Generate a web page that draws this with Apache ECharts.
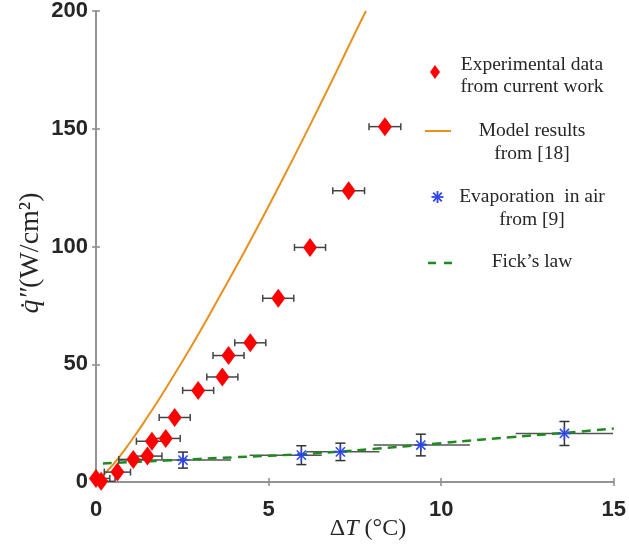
<!DOCTYPE html>
<html>
<head>
<meta charset="utf-8">
<script src="https://cdn.jsdelivr.net/npm/echarts@6/dist/echarts.min.js"></script>
<style>
html,body{margin:0;padding:0;background:#fff;}
#chart{width:629px;height:548px;}
</style>
</head>
<body>
<div id="chart"></div>
<script>
// ---- Axis ranges ----
const xMin = 0, xMax = 15, xInterval = 5;
const yMin = 0, yMax = 200, yInterval = 50;

// ---- Experimental data from current work (red diamonds, horizontal error) ----
const expX    = [0.00, 0.15, 0.62, 1.08, 1.49, 1.62, 2.02, 2.28, 2.96, 3.66, 3.84, 4.47, 5.28, 6.20, 7.32, 8.37];
const expY    = [1.5,  0.3,  4.2,  9.6,  11.0, 17.3, 18.5, 27.4, 38.9, 44.6, 53.7, 59.1, 78.0, 99.6, 123.7, 150.9];
const expXErr = [0.40, 0.40, 0.38, 0.42, 0.42, 0.45, 0.42, 0.45, 0.45, 0.45, 0.45, 0.45, 0.45, 0.45, 0.46, 0.46];

// ---- Model results from [18] (orange line) ----
const modelX = [0, 0.5, 1, 1.5, 2, 2.5, 3, 3.5, 4, 4.5, 5, 5.5, 6, 6.5, 7, 7.5, 7.82];
const modelY = [0, 7.5, 17.1, 27.8, 39.2, 51.2, 63.6, 76.6, 89.8, 103.3, 117.1, 131.3, 145.7, 160.4, 175.3, 190.5, 200];

// ---- Evaporation in air from [9] (blue asterisks) ----
const evapX     = [2.52, 5.95, 7.08, 9.41, 13.57];
const evapY     = [9.3, 11.4, 12.8, 15.7, 20.6];
const evapYErr  = [3.4, 4.0, 3.7, 4.6, 5.1];
const evapXLow  = [0.63, 4.45, 6.09, 8.04, 12.16];
const evapXHigh = [3.91, 6.54, 8.21, 10.83, 14.98];

// ---- Fick's law (green dashed) ----
const fickX = [0.2, 2, 4, 6, 8, 10, 12, 14, 15];
const fickY = [7.9, 9.1, 10.5, 11.9, 14.0, 16.5, 19.0, 21.4, 22.7];

// ---- Legend labels ----
const legendLabels = ['Experimental data\nfrom current work', 'Model results\nfrom [18]', 'Evaporation  in air\nfrom [9]', 'Fick\u2019s law'];

const AXIS_COLOR = '#8c8c8c';
const LABEL_FONT = {fontFamily: 'Liberation Sans, Arial, sans-serif', fontWeight: 'bold', fontSize: 22, color: '#262626'};
const SERIF = 'Liberation Serif, Times New Roman, serif';
const TXT = '#262626';

const chart = echarts.init(document.getElementById('chart'), null, {renderer: 'canvas'});

function axisCommon() {
  return {
    axisLine: {show: true, lineStyle: {color: AXIS_COLOR, width: 1.5}},
    axisTick: {show: true, inside: true, length: 4, lineStyle: {color: AXIS_COLOR, width: 1.5}},
    splitLine: {show: false}
  };
}

const option = {
  animation: false,
  backgroundColor: '#fff',
  grid: {left: 96, right: 12, top: 9, bottom: 66, containLabel: false},
  xAxis: [
    Object.assign({type: 'value', min: xMin, max: xMax, interval: xInterval, position: 'bottom',
      axisLabel: Object.assign({margin: 17}, LABEL_FONT)}, axisCommon()),
    Object.assign({type: 'value', min: xMin, max: xMax, interval: xInterval, position: 'top',
      axisLabel: {show: false}}, axisCommon())
  ],
  yAxis: [
    Object.assign({type: 'value', min: yMin, max: yMax, interval: yInterval, position: 'left',
      axisLabel: Object.assign({margin: 8}, LABEL_FONT)}, axisCommon()),
    Object.assign({type: 'value', min: yMin, max: yMax, interval: yInterval, position: 'right',
      axisLabel: {show: false}}, axisCommon())
  ],
  series: [
    {
      name: 'Evaporation range',
      type: 'custom',
      clip: true,
      z: 2,
      data: evapX.map((x, i) => [x, evapY[i], evapXLow[i], evapXHigh[i]]),
      encode: {x: 0, y: 1},
      renderItem: function (params, api) {
        const y = api.value(1);
        const p1 = api.coord([api.value(2), y]);
        const p2 = api.coord([api.value(3), y]);
        return {type: 'line', shape: {x1: p1[0], y1: p1[1], x2: p2[0], y2: p2[1]},
          style: {stroke: '#555', lineWidth: 1.5}};
      }
    },
    {
      name: 'Fick\u2019s law',
      type: 'line',
      z: 3,
      data: fickX.map((x, i) => [x, fickY[i]]),
      showSymbol: false,
      smooth: true,
      lineStyle: {color: '#1f8a1f', width: 2.5, type: [9, 6]}
    },
    {
      name: 'Model results',
      type: 'line',
      z: 3,
      clip: true,
      data: modelX.map((x, i) => [x, modelY[i]]),
      showSymbol: false,
      smooth: true,
      lineStyle: {color: '#e8901e', width: 2}
    },
    {
      name: 'Exp error',
      type: 'custom',
      clip: true,
      z: 4,
      data: expX.map((x, i) => [x, expY[i], expXErr[i]]),
      encode: {x: 0, y: 1},
      renderItem: function (params, api) {
        const x = api.value(0), y = api.value(1), e = api.value(2);
        const p1 = api.coord([x - e, y]);
        const p2 = api.coord([x + e, y]);
        const c = 3.5;
        const st = {stroke: '#444', lineWidth: 1.5};
        return {type: 'group', children: [
          {type: 'line', shape: {x1: p1[0], y1: p1[1], x2: p2[0], y2: p2[1]}, style: st},
          {type: 'line', shape: {x1: p1[0], y1: p1[1] - c, x2: p1[0], y2: p1[1] + c}, style: st},
          {type: 'line', shape: {x1: p2[0], y1: p2[1] - c, x2: p2[0], y2: p2[1] + c}, style: st}
        ]};
      }
    },
    {
      name: 'Experimental data',
      type: 'scatter',
      z: 5,
      data: expX.map((x, i) => [x, expY[i]]),
      symbol: 'diamond',
      symbolSize: [14, 19],
      itemStyle: {color: '#ff0000', opacity: 1}
    },
    {
      name: 'Evaporation in air',
      type: 'custom',
      clip: true,
      z: 6,
      data: evapX.map((x, i) => [x, evapY[i], evapYErr[i]]),
      encode: {x: 0, y: 1},
      renderItem: function (params, api) {
        const x = api.value(0), y = api.value(1), e = api.value(2);
        const p = api.coord([x, y]);
        const pt = api.coord([x, y + e]);
        const pb = api.coord([x, y - e]);
        const c = 5;
        const st = {stroke: '#333', lineWidth: 1.5};
        const bs = {stroke: '#2f45f0', lineWidth: 1.5};
        const r = 6.5, d = 4.6;
        return {type: 'group', children: [
          {type: 'line', shape: {x1: pt[0], y1: pt[1], x2: pb[0], y2: pb[1]}, style: st},
          {type: 'line', shape: {x1: pt[0] - c, y1: pt[1], x2: pt[0] + c, y2: pt[1]}, style: st},
          {type: 'line', shape: {x1: pb[0] - c, y1: pb[1], x2: pb[0] + c, y2: pb[1]}, style: st},
          {type: 'line', shape: {x1: p[0], y1: p[1] - r, x2: p[0], y2: p[1] + r}, style: bs},
          {type: 'line', shape: {x1: p[0] - r, y1: p[1], x2: p[0] + r, y2: p[1]}, style: bs},
          {type: 'line', shape: {x1: p[0] - d, y1: p[1] - d, x2: p[0] + d, y2: p[1] + d}, style: bs},
          {type: 'line', shape: {x1: p[0] - d, y1: p[1] + d, x2: p[0] + d, y2: p[1] - d}, style: bs}
        ]};
      }
    }
  ],
  graphic: [
    // axis titles
    {
      type: 'text', x: 368, y: 529,
      style: {
        text: '{d|\u0394}{t|T}{n| (\u00b0C)}',
        align: 'center', verticalAlign: 'middle',
        rich: {
          d: {fontFamily: SERIF, fontSize: 24, fill: TXT},
          t: {fontFamily: SERIF, fontSize: 24, fontStyle: 'italic', fill: TXT},
          n: {fontFamily: SERIF, fontSize: 24, fill: TXT}
        }
      }
    },
    {
      type: 'text', x: 31, y: 253, rotation: Math.PI / 2,
      style: {
        text: '{q|q\u0307\u2033}{n|(W/cm\u00b2)}',
        align: 'center', verticalAlign: 'middle',
        rich: {
          q: {fontFamily: SERIF, fontSize: 28, fontStyle: 'italic', fill: TXT},
          n: {fontFamily: SERIF, fontSize: 28, fill: TXT}
        }
      }
    },
    // legend icons
    {type: 'polygon', shape: {points: [[435, 65], [440, 72], [435, 79], [430, 72]]}, style: {fill: '#ff0000'}},
    {type: 'line', shape: {x1: 425, y1: 131, x2: 451, y2: 131}, style: {stroke: '#e8901e', lineWidth: 2}},
    {type: 'group', x: 437.5, y: 197, children: [
      {type: 'line', shape: {x1: 0, y1: -6, x2: 0, y2: 6}, style: {stroke: '#2f45f0', lineWidth: 1.8}},
      {type: 'line', shape: {x1: -6, y1: 0, x2: 6, y2: 0}, style: {stroke: '#2f45f0', lineWidth: 1.8}},
      {type: 'line', shape: {x1: -4.3, y1: -4.3, x2: 4.3, y2: 4.3}, style: {stroke: '#2f45f0', lineWidth: 1.8}},
      {type: 'line', shape: {x1: -4.3, y1: 4.3, x2: 4.3, y2: -4.3}, style: {stroke: '#2f45f0', lineWidth: 1.8}}
    ]},
    {type: 'line', shape: {x1: 428, y1: 263, x2: 452, y2: 263}, style: {stroke: '#1f8a1f', lineWidth: 2.5, lineDash: [8, 8]}},
    // legend texts
    {type: 'text', x: 532, y: 76, style: {text: legendLabels[0], align: 'center', verticalAlign: 'middle', fontFamily: SERIF, fontSize: 19.5, lineHeight: 22, fill: TXT}},
    {type: 'text', x: 532, y: 142, style: {text: legendLabels[1], align: 'center', verticalAlign: 'middle', fontFamily: SERIF, fontSize: 19.5, lineHeight: 23, fill: TXT}},
    {type: 'text', x: 532, y: 208.5, style: {text: legendLabels[2], align: 'center', verticalAlign: 'middle', fontFamily: SERIF, fontSize: 19.5, lineHeight: 23, fill: TXT}},
    {type: 'text', x: 532, y: 262, style: {text: legendLabels[3], align: 'center', verticalAlign: 'middle', fontFamily: SERIF, fontSize: 19.5, fill: TXT}}
  ]
};

chart.setOption(option);
</script>
</body>
</html>
